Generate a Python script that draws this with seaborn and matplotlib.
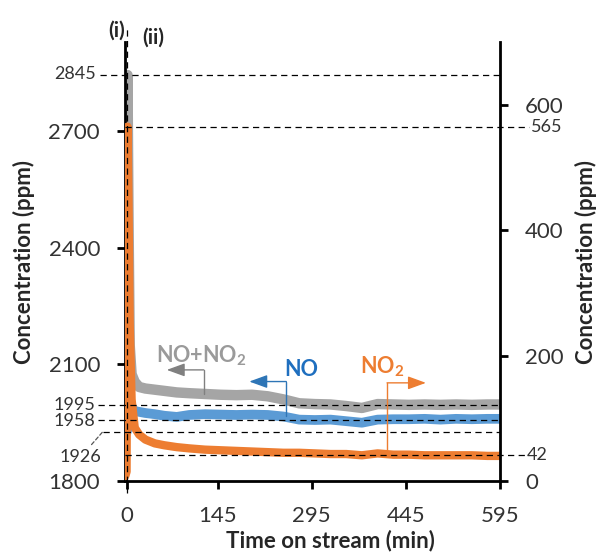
"""
NO / NO2 / NO+NO2 concentration versus time on stream, twin y axes.
"""
import matplotlib
matplotlib.use("Agg")
import matplotlib.pyplot as plt
import matplotlib.transforms as mtransforms
import seaborn as sns

# data (minutes, ppm)
time_min = [-4, -2, 0, 0.7, 1.5, 3, 5, 8, 13, 20, 30, 45, 60, 80, 100, 125, 150,
            175, 200, 225, 250, 275, 300, 325, 350, 375, 400, 425, 450, 475,
            500, 525, 550, 575, 595]
nox_ppm = [1928, 1935, 1930, 2400, 2845, 2500, 2150, 2075, 2055, 2042, 2038,
           2035, 2032, 2028, 2026, 2024, 2022, 2021, 2022, 2018, 2010, 2000,
           1998, 1997, 1993, 1988, 1998, 1997, 1996, 1997, 1996, 1997, 1996,
           1997, 1997]
no_ppm = [1935, 1930, 1925, 1930, 1940, 1990, 2000, 1988, 1980, 1978, 1975,
          1972, 1968, 1965, 1970, 1972, 1971, 1970, 1971, 1970, 1966, 1958,
          1957, 1958, 1954, 1950, 1958, 1959, 1959, 1960, 1958, 1960, 1959,
          1960, 1960]
no2_ppm = [10, 8, 15, 200, 565, 450, 250, 130, 85, 74, 66, 60, 57, 54, 52, 50,
           49, 48, 47, 46, 45, 45, 44, 43, 43, 41, 44, 42, 42, 41, 41, 41, 41,
           40, 40]

left_ticks = [1800, 2100, 2400, 2700]
right_ticks = [0, 200, 400, 600]
x_ticks = [0, 145, 295, 445, 595]
left_levels = [2845, 1995, 1958, 1926]
right_levels = [565, 42]

GRAY, BLUE, ORANGE = "#a5a5a5", "#5b9bd5", "#ed7d31"
TXT = "#333333"

sns.set_style("ticks")
plt.rcParams["font.family"] = ["Lato", "DejaVu Sans"]
plt.rcParams["mathtext.default"] = "regular"

W, H = 599, 557
fig = plt.figure(figsize=(W / 100, H / 100), dpi=100)
ax = fig.add_axes([125 / W, 1 - 481 / H, 375 / W, 439 / H])
ax2 = ax.twinx()

sns.lineplot(x=time_min, y=nox_ppm, ax=ax, color=GRAY, lw=7.5, estimator=None, sort=False)
sns.lineplot(x=time_min, y=no_ppm, ax=ax, color=BLUE, lw=7, estimator=None, sort=False)
sns.lineplot(x=time_min, y=no2_ppm, ax=ax2, color=ORANGE, lw=6, estimator=None, sort=False)

ax.set_xlim(-2.5, 595)
ax.set_ylim(1800, 2930)
ax2.set_ylim(0, 700)
ax.set_xticks(x_ticks)
ax.set_yticks(left_ticks)
ax2.set_yticks(right_ticks)

for a in (ax, ax2):
    a.spines["top"].set_visible(False)
    for s in a.spines.values():
        s.set_linewidth(2)
        s.set_color("black")
    a.tick_params(length=6, width=2, pad=12, labelsize=16, labelcolor=TXT, color="black")
ax.spines["right"].set_visible(False)
ax2.spines["left"].set_visible(False)
ax2.spines["bottom"].set_visible(False)

ax.set_xlabel("Time on stream (min)", fontsize=16, fontweight="bold")
ax.set_ylabel("Concentration (ppm)", fontsize=16, fontweight="bold")
ax2.set_ylabel("Concentration (ppm)", fontsize=16, fontweight="bold", rotation=90)
ax.xaxis.set_label_coords(0.547, -0.11)
ax.yaxis.set_label_coords(-0.24, 0.5)
ax2.yaxis.set_label_coords(1.2, 0.5)

# dashed guide lines, drawn on the top axes so they sit over the curves
dash = dict(color="black", lw=0.9, ls=(0, (5, 3.5)), clip_on=False)
tl = mtransforms.blended_transform_factory(ax.transAxes, ax.transData)
tr = mtransforms.blended_transform_factory(ax2.transAxes, ax2.transData)
tv = mtransforms.blended_transform_factory(ax.transData, ax.transAxes)

starts = [-0.067, -0.072, -0.072, -0.06]
for lvl, x0 in zip(left_levels, starts):
    ax2.plot([x0, 1], [lvl, lvl], transform=tl, **dash)
for lvl, dy in zip(left_levels[:3], [2, 0, -3]):
    ax2.text(-0.078, lvl + dy, str(lvl), transform=tl, ha="right", va="center",
             fontsize=13, color=TXT)
ax2.annotate(str(left_levels[3]), xy=(-0.06, left_levels[3]), xycoords=tl,
             xytext=(-0.118, 1862), textcoords=tl, ha="center", va="center",
             fontsize=13, color=TXT,
             arrowprops=dict(arrowstyle="-", lw=0.9, ls=(0, (3, 2)), color="#555555",
                             shrinkA=1, shrinkB=0))

for lvl, x1 in zip(right_levels, [1.078, 1.068]):
    ax2.plot([0, x1], [lvl, lvl], transform=tr, **dash)
    ax2.text(x1 + 0.004, lvl, str(lvl), transform=tr, ha="left", va="center",
             fontsize=13, color=TXT)

ax2.plot([1, 1], [-0.027, 1.032], transform=tv, **dash)

# series callouts
head = "-|>,head_length=0.55,head_width=0.2"


def callout(label, color, txt_color, trans, x_line, y_from, y_to, x_tip, x_txt, y_txt):
    ax2.plot([x_line, x_line], [y_from, y_to], transform=trans, color=color, lw=1)
    ax2.annotate("", xy=(x_tip, y_to), xytext=(x_line, y_to), xycoords=trans,
                 textcoords=trans,
                 arrowprops=dict(arrowstyle=head, color=color, lw=1,
                                 mutation_scale=20, shrinkA=0, shrinkB=0))
    ax2.text(x_txt, y_txt, label, transform=trans, ha="center", va="baseline",
             fontsize=15.5, fontweight="bold", color=txt_color)


callout("NO+NO$_2$", "#808080", "#9a9a9a", ax.transData, 123, 2024, 2086, 64, 119, 2105)
callout("NO", "#2e75b6", "#1f6fbf", ax.transData, 254.5, 1968, 2056, 195.5, 278, 2069)
callout("NO$_2$", ORANGE, ORANGE, ax2.transData, 415, 42, 156.5, 477, 407, 172)

fig.text(117 / W, 1 - 31 / H, "(i)", ha="center", va="center", fontsize=15,
         fontweight="bold")
fig.text(153 / W, 1 - 38 / H, "(ii)", ha="center", va="center", fontsize=15,
         fontweight="bold")

fig.savefig("out.png", dpi=100)
